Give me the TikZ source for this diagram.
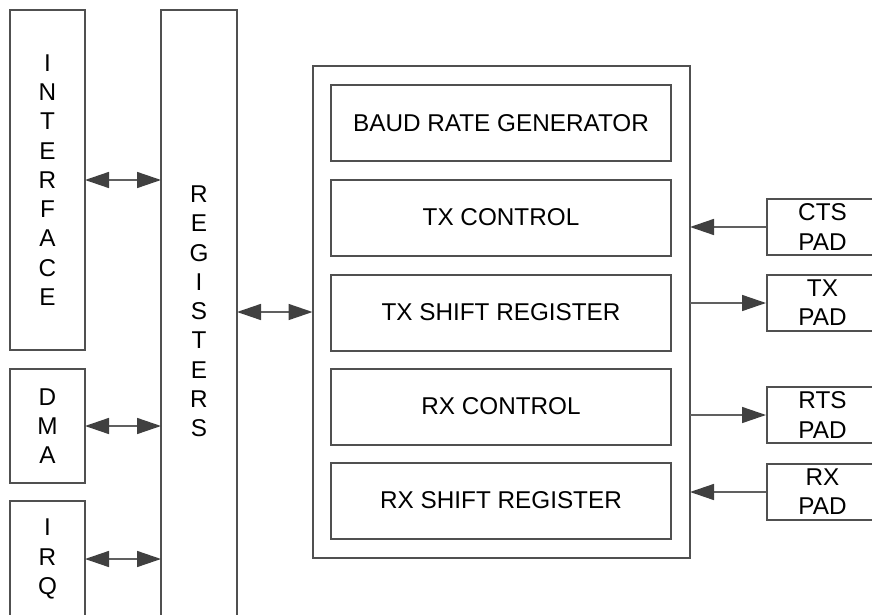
\documentclass[tikz,border=0pt]{standalone}
\usepackage{fontspec}
\setmainfont{Liberation Sans}
\usetikzlibrary{arrows.meta}
\definecolor{boxline}{HTML}{505050}
\definecolor{arrline}{HTML}{606060}
\definecolor{tipcol}{HTML}{404040}
\tikzset{
  blk/.style={draw=boxline, line width=2pt, fill=none, inner sep=0pt},
  txt/.style={font=\fontsize{24.3}{29.25}\selectfont, align=center, text=black},
  conn/.style={draw=arrline, line width=1.5pt},
  tip/.style={-{Triangle[length=24pt,width=16pt,color=tipcol]}},
  tips/.style={{Triangle[length=24pt,width=16pt,color=tipcol]}-{Triangle[length=24pt,width=16pt,color=tipcol]}}
}
\begin{document}
\begin{tikzpicture}[x=1pt,y=-1pt]
\useasboundingbox (0,0) rectangle (872,615);
\clip (0,0) rectangle (872,615);
% left column
\draw[blk] (10,10) rectangle (85,350);
\node[txt] (iface) at (47.5,180) {I\\N\\T\\E\\R\\F\\A\\C\\E};
\coordinate (ifaceE) at (85,180);
\draw[blk] (10,369) rectangle (85,483);
\node[txt] (dma) at (47.5,426) {D\\M\\A};
\coordinate (dmaE) at (85,426);
\draw[blk] (10,501) rectangle (85,617);
\node[txt] (irq) at (47.5,559) {I\\R\\Q};
\coordinate (irqE) at (85,559);
% registers
\draw[blk] (161,10) rectangle (237,617);
\node[txt] (regs) at (199,311.5) {R\\E\\G\\I\\S\\T\\E\\R\\S};
\coordinate (regW1) at (161,180);
\coordinate (regW2) at (161,426);
\coordinate (regW3) at (161,559);
\coordinate (regE) at (237,312);
% container
\draw[blk] (312.5,66.5) rectangle (690,558);
\coordinate (contW) at (312.5,312);
\node[blk, minimum width=340pt, minimum height=76pt, txt] (baud) at (501,123) {BAUD RATE GENERATOR};
\node[blk, minimum width=340pt, minimum height=76pt, txt] (txc) at (501,217.5) {TX CONTROL};
\node[blk, minimum width=340pt, minimum height=76pt, txt] (txs) at (501,312.5) {TX SHIFT REGISTER};
\node[blk, minimum width=340pt, minimum height=76pt, txt] (rxc) at (501,406.5) {RX CONTROL};
\node[blk, minimum width=340pt, minimum height=76pt, txt] (rxs) at (501,500.5) {RX SHIFT REGISTER};
% pads
\node[blk, minimum width=111pt, minimum height=56.5pt, txt, anchor=west] (cts) at (766,227) {CTS\\PAD};
\node[blk, minimum width=111pt, minimum height=56.5pt, txt, anchor=west] (txp) at (766,303) {TX\\PAD};
\node[blk, minimum width=111pt, minimum height=56.5pt, txt, anchor=west] (rts) at (766,415) {RTS\\PAD};
\node[blk, minimum width=111pt, minimum height=56.5pt, txt, anchor=west] (rxp) at (766,492) {RX\\PAD};
\coordinate (c1) at (690,227);
\coordinate (c2) at (690,303);
\coordinate (c3) at (690,415);
\coordinate (c4) at (690,492);
% connectors
\draw[conn,tips] (ifaceE) -- (regW1);
\draw[conn,tips] (dmaE) -- (regW2);
\draw[conn,tips] (irqE) -- (regW3);
\draw[conn,tips] (regE) -- (contW);
\draw[conn,tip] (cts.west) -- (c1);
\draw[conn,tip] (c2) -- (txp.west);
\draw[conn,tip] (c3) -- (rts.west);
\draw[conn,tip] (rxp.west) -- (c4);
\end{tikzpicture}
\end{document}
